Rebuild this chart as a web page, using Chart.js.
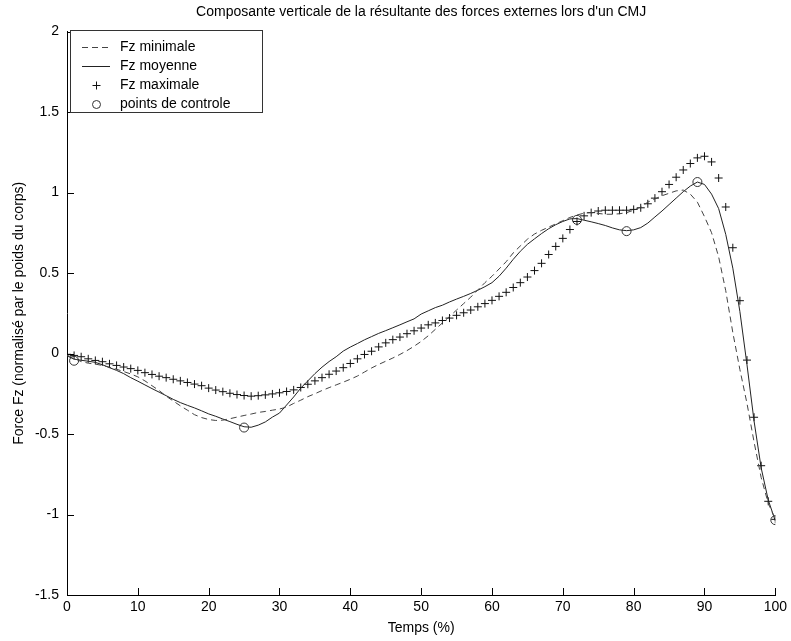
<!DOCTYPE html>
<html>
<head>
<meta charset="utf-8">
<script src="https://cdn.jsdelivr.net/npm/chart.js@4.4.1/dist/chart.umd.min.js"></script>
<style>
  html, body { margin: 0; padding: 0; background: #fff; }
  #c { display: block; }
</style>
</head>
<body>
<canvas id="c" width="791" height="641"></canvas>
<script>
// temps en % du saut
const temps = [
  0, 1, 2, 3, 4, 5, 6, 7, 8, 9,
  10, 11, 12, 13, 14, 15, 16, 17, 18, 19,
  20, 21, 22, 23, 24, 25, 26, 27, 28, 29,
  30, 31, 32, 33, 34, 35, 36, 37, 38, 39,
  40, 41, 42, 43, 44, 45, 46, 47, 48, 49,
  50, 51, 52, 53, 54, 55, 56, 57, 58, 59,
  60, 61, 62, 63, 64, 65, 66, 67, 68, 69,
  70, 71, 72, 73, 74, 75, 76, 77, 78, 79,
  80, 81, 82, 83, 84, 85, 86, 87, 88, 89,
  90, 91, 92, 93, 94, 95, 96, 97, 98, 99, 100
];

const fzMinimale = [
  -0.01, -0.03, -0.05, -0.06, -0.066, -0.074, -0.085, -0.098, -0.112, -0.127,
  -0.145, -0.17, -0.2, -0.23, -0.265, -0.295, -0.325, -0.352, -0.38, -0.398,
  -0.41, -0.416, -0.414, -0.405, -0.395, -0.385, -0.376, -0.366, -0.36, -0.352,
  -0.345, -0.333, -0.31, -0.29, -0.268, -0.25, -0.23, -0.212, -0.195, -0.178,
  -0.16, -0.14, -0.115, -0.09, -0.068, -0.048, -0.028, -0.006, 0.018, 0.045,
  0.075, 0.11, 0.15, 0.19, 0.23, 0.27, 0.31, 0.35, 0.395, 0.44,
  0.48, 0.525, 0.57, 0.625, 0.668, 0.71, 0.742, 0.765, 0.785, 0.805,
  0.825, 0.845, 0.86, 0.872, 0.875, 0.87, 0.865, 0.865, 0.868, 0.875,
  0.89, 0.91, 0.94, 0.96, 0.98, 0.995, 1.01, 1.015, 0.99, 0.94,
  0.85, 0.75, 0.6, 0.39, 0.13, -0.1, -0.31, -0.55, -0.77, -0.93, -1.03
];

const fzMoyenne = [
  -0.015, -0.035, -0.042, -0.048, -0.055, -0.07, -0.088, -0.105, -0.125, -0.15,
  -0.172, -0.195, -0.218, -0.24, -0.262, -0.285, -0.305, -0.322, -0.338, -0.356,
  -0.375, -0.39, -0.407, -0.423, -0.44, -0.455, -0.458, -0.445, -0.425, -0.395,
  -0.37, -0.32, -0.27, -0.215, -0.17, -0.125, -0.085, -0.05, -0.02, 0.015,
  0.04, 0.062, 0.085, 0.105, 0.125, 0.142, 0.16, 0.178, 0.197, 0.215,
  0.245, 0.265, 0.285, 0.3, 0.32, 0.338, 0.355, 0.373, 0.393, 0.415,
  0.44, 0.48, 0.53, 0.585, 0.635, 0.678, 0.712, 0.745, 0.775, 0.8,
  0.82, 0.836, 0.838, 0.828, 0.818, 0.807, 0.795, 0.78, 0.768, 0.763,
  0.768, 0.782, 0.81, 0.848, 0.885, 0.925, 0.965, 1.005, 1.04, 1.065,
  1.05, 0.99, 0.9, 0.74, 0.53, 0.26, -0.07, -0.42, -0.71, -0.91, -1.04
];

const fzMaximale = [
  -0.005, -0.012, -0.02, -0.033, -0.043, -0.051, -0.064, -0.074, -0.084, -0.094,
  -0.105, -0.119, -0.13, -0.141, -0.15, -0.16, -0.17, -0.18, -0.19, -0.2,
  -0.215, -0.227, -0.237, -0.247, -0.255, -0.261, -0.265, -0.262, -0.257, -0.251,
  -0.244, -0.236, -0.226, -0.211, -0.191, -0.17, -0.15, -0.129, -0.109, -0.088,
  -0.062, -0.033, -0.006, 0.014, 0.041, 0.066, 0.086, 0.102, 0.123, 0.141,
  0.158, 0.178, 0.19, 0.205, 0.22, 0.237, 0.253, 0.27, 0.29, 0.31,
  0.33, 0.355, 0.38, 0.41, 0.44, 0.475, 0.515, 0.56, 0.615, 0.665,
  0.715, 0.77, 0.82, 0.855, 0.875, 0.885, 0.89, 0.89, 0.89, 0.89,
  0.895, 0.905, 0.93, 0.965, 1.005, 1.05, 1.095, 1.14, 1.18, 1.215,
  1.225, 1.19, 1.09, 0.91, 0.657, 0.328, -0.041, -0.396, -0.697, -0.918, -1.03
];

// points de controle
const controleX = [1, 25, 72, 79, 89, 100];
const controleY = [-0.045, -0.46, 0.83, 0.76, 1.065, -1.035];

const xTicks = [0, 10, 20, 30, 40, 50, 60, 70, 80, 90, 100];
const yTicks = [-1.5, -1, -0.5, 0, 0.5, 1, 1.5, 2];

const FONT = 'Liberation Sans, Arial, Helvetica, sans-serif';

const toPoints = (xs, ys) => xs.map((x, i) => ({ x: x, y: ys[i] }));

// matlab style ticks, drawn inside the axes
const ticksInside = {
  id: 'ticksInside',
  afterDraw(chart) {
    const { ctx, chartArea, scales: { x, y } } = chart;
    ctx.save();
    ctx.strokeStyle = '#000';
    ctx.lineWidth = 1;
    ctx.beginPath();
    xTicks.forEach((v) => {
      const px = Math.round(x.getPixelForValue(v)) + 0.5;
      ctx.moveTo(px, chartArea.bottom);
      ctx.lineTo(px, chartArea.bottom - 7);
    });
    yTicks.forEach((v) => {
      const py = Math.round(y.getPixelForValue(v)) + 0.5;
      ctx.moveTo(chartArea.left, py);
      ctx.lineTo(chartArea.left + 7, py);
    });
    ctx.stroke();
    ctx.restore();
  }
};

// boxed legend in the upper left corner
const boxLegend = {
  id: 'boxLegend',
  afterDraw(chart) {
    const { ctx } = chart;
    const datasets = chart.data.datasets;
    const left = 70.5, top = 30.5, w = 192, h = 82;
    ctx.save();
    ctx.fillStyle = '#fff';
    ctx.fillRect(left, top, w, h);
    ctx.strokeStyle = '#333';
    ctx.lineWidth = 1;
    ctx.strokeRect(left, top, w, h);
    ctx.font = '14px ' + FONT;
    ctx.textBaseline = 'middle';
    ctx.textAlign = 'left';
    const rows = [47, 66, 85, 104];
    datasets.forEach((ds, i) => {
      const yy = rows[i] + 0.5;
      ctx.strokeStyle = ds.borderColor;
      ctx.lineWidth = 1;
      if (ds.showLine !== false) {
        ctx.setLineDash(ds.borderDash || []);
        ctx.beginPath();
        ctx.moveTo(82, yy);
        ctx.lineTo(110, yy);
        ctx.stroke();
        ctx.setLineDash([]);
      } else if (ds.pointStyle === 'cross') {
        ctx.beginPath();
        ctx.moveTo(96.5 - 4, yy);
        ctx.lineTo(96.5 + 4, yy);
        ctx.moveTo(96.5, yy - 4);
        ctx.lineTo(96.5, yy + 4);
        ctx.stroke();
      } else {
        ctx.beginPath();
        ctx.arc(96.5, yy, 4, 0, Math.PI * 2);
        ctx.stroke();
      }
      ctx.fillStyle = '#000';
      ctx.fillText(ds.label, 120, rows[i]);
    });
    ctx.restore();
  }
};

new Chart(document.getElementById('c'), {
  type: 'line',
  data: {
    datasets: [
      {
        label: 'Fz minimale',
        data: toPoints(temps, fzMinimale),
        borderColor: '#444',
        borderWidth: 1,
        borderDash: [6, 4],
        pointRadius: 0,
        tension: 0
      },
      {
        label: 'Fz moyenne',
        data: toPoints(temps, fzMoyenne),
        borderColor: '#222',
        borderWidth: 1,
        pointRadius: 0,
        tension: 0
      },
      {
        label: 'Fz maximale',
        data: toPoints(temps, fzMaximale),
        showLine: false,
        pointStyle: 'cross',
        pointRadius: 4,
        borderColor: '#111',
        borderWidth: 1
      },
      {
        label: 'points de controle',
        data: toPoints(controleX, controleY),
        showLine: false,
        pointStyle: 'circle',
        pointRadius: 4.5,
        borderColor: '#333',
        backgroundColor: 'rgba(0,0,0,0)',
        borderWidth: 1
      }
    ]
  },
  options: {
    responsive: false,
    animation: false,
    devicePixelRatio: 1,
    layout: { padding: { left: 0, right: 15, top: 0, bottom: 0 } },
    plugins: {
      legend: { display: false },
      tooltip: { enabled: false },
      title: {
        display: true,
        fullSize: false,
        text: "Composante verticale de la résultante des forces externes lors d'un CMJ",
        color: '#000',
        font: { family: FONT, size: 14, weight: 'normal' },
        padding: { top: 4, bottom: 10.7 }
      }
    },
    scales: {
      x: {
        type: 'linear',
        position: 'bottom',
        min: 0,
        max: 100,
        grid: { display: false, drawTicks: false },
        border: { display: true, color: '#000', width: 1 },
        ticks: {
          color: '#000',
          padding: 4,
          maxRotation: 0,
          autoSkip: false,
          font: { family: FONT, size: 14 },
          callback: (v) => String(v)
        },
        afterBuildTicks: (s) => { s.ticks = xTicks.map((v) => ({ value: v })); },
        afterFit: (s) => { s.height = 46; },
        title: {
          display: true,
          text: 'Temps (%)',
          color: '#000',
          font: { family: FONT, size: 14 },
          padding: { top: 0, bottom: 4 }
        }
      },
      y: {
        type: 'linear',
        min: -1.5,
        max: 2,
        grid: { display: false, drawTicks: false },
        border: { display: true, color: '#000', width: 1 },
        ticks: {
          color: '#000',
          padding: 8,
          font: { family: FONT, size: 14 },
          callback: (v) => String(v)
        },
        afterBuildTicks: (s) => { s.ticks = yTicks.map((v) => ({ value: v })); },
        afterFit: (s) => { s.width = 67; },
        title: {
          display: true,
          text: 'Force Fz (normalisé par le poids du corps)',
          color: '#000',
          font: { family: FONT, size: 14 },
          padding: { top: 11, bottom: 0 }
        }
      }
    }
  },
  plugins: [ticksInside, boxLegend]
});
</script>
</body>
</html>
